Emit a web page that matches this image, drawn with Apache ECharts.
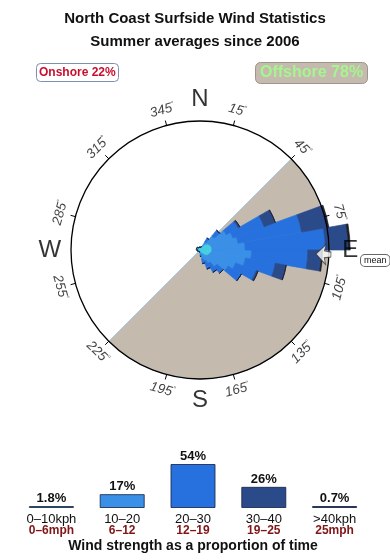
<!DOCTYPE html>
<html><head><meta charset="utf-8">
<script src="https://cdn.jsdelivr.net/npm/echarts@6/dist/echarts.min.js"></script>
<style>html,body{margin:0;padding:0;background:#fff}#c{width:390px;height:560px}</style>
</head><body><div id="c"></div>
<script>
const FONT = '"Liberation Sans", Arial, Helvetica, sans-serif';

// ---- Wind rose: 10-degree direction bins (centre bearing) ----
const dirBins = ['5','15','25','35','45','55','65','75','85','95','105','115','125','135','145','155','165','175',
                 '185','195','205','215','225','235','245','255','265','275','285','295','305','315','325','335','345','355'];
// frequency (% of time) per bin for each speed class
const rose0to10  = [0.3,0.3,0.3,0.5,0.9,1.1,1.2,1.3,1.3,1.3,1.2,1.1,1.0,0.8,0.5,0.4,0.3,0.2,
                    0.2,0.2,0.2,0.2,0.2,0.2,0.3,0.3,0.3,0.3,0.4,0.4,0.4,0.4,0.3,0.3,0.3,0.3];
const rose10to20 = [0,0,0.1,0.5,1.1,2.2,2.6,2.9,3.6,4.3,3.8,3.0,2.5,1.6,1.2,0.9,0.7,0.3,
                    0,0,0,0,0,0,0,0,0,0,0,0,0,0,0,0,0,0];
const rose20to30 = [0,0,0,0.5,0.8,1.5,3.6,7.0,8.7,6.1,3.3,2.4,1.7,0.9,1.1,0.9,0.5,0.2,
                    0,0,0,0,0,0,0,0,0,0,0,0,0,0,0,0,0,0];
const rose30to40 = [0,0,0,0,0,0.2,1.3,2.9,2.5,1.5,1.2,0.2,0,0,0,0,0,0,
                    0,0,0,0,0,0,0,0,0,0,0,0,0,0,0,0,0,0];
const rose40plus = [0,0,0,0,0,0,0,0.1,0.2,0.1,0,0,0,0,0,0,0,0,
                    0,0,0,0,0,0,0,0,0,0,0,0,0,0,0,0,0,0];
const roseClasses = [rose0to10, rose10to20, rose20to30, rose30to40, rose40plus];
const roseMax = 14;          // frequency at the compass circle
const meanDirection = 92;    // degrees
const meanRadius = 13.4;

// ---- Compass decoration ----
const tickAngles = [15,45,75,105,135,165,195,225,255,285,315,345];
const tickLabelRadius = 15.7;
const cardinals = ['N','E','S','W'];
const cardinalAngles = [0,90,180,270];
const cardinalRadius = 16.3;
const offshoreSector = [45, 225];   // bearings, clockwise
const onshoreShare = 22, offshoreShare = 78;

// ---- Speed distribution ----
const speedKph = ['0–10kph','10–20','20–30','30–40','>40kph'];
const speedMph = ['0–6mph','6–12','12–19','19–25','25mph'];
const speedShare = [1.8, 17, 54, 26, 0.7];
const speedColors = ['#45cfe0','#3a8fe6','#2671dd','#2b4a8a','#1c1c24'];

const CX = 200, CY = 250, R = 129;

const roseSeries = roseClasses.map((arr, i) => ({
  type: 'bar', coordinateSystem: 'polar', polarIndex: 0, stack: 'rose',
  data: arr, barCategoryGap: '0%', clip: false, silent: true, z: 3,
  itemStyle: { color: speedColors[i], borderColor: speedColors[i], borderWidth: 0.7 }
}));

function tickRotate(b) {
  if (b < 90) return -b;
  if (b > 270) return 360 - b;
  return 180 - b;
}

const option = {
  animation: false,
  backgroundColor: '#fff',
  textStyle: { fontFamily: FONT },
  title: [
    { text: 'North Coast Surfside Wind Statistics\nSummer averages since 2006', left: 'center', top: 7, padding: 0,
      textStyle: { fontFamily: FONT, fontSize: 15, fontWeight: 'bold', color: '#111', lineHeight: 23 } },
    { text: 'Onshore ' + onshoreShare + '%', left: 36, top: 63, padding: [3, 3, 2, 3],
      borderColor: '#7f8fb0', borderWidth: 1, borderRadius: 4, backgroundColor: '#fff',
      textStyle: { fontFamily: FONT, fontSize: 12, fontWeight: 'bold', color: '#c8102e', lineHeight: 14 } },
    { text: 'Offshore ' + offshoreShare + '%', left: 255, top: 62, padding: [2, 5, 2, 5],
      borderColor: '#9d958c', borderWidth: 1, borderRadius: 5, backgroundColor: '#c4baae',
      textStyle: { fontFamily: FONT, fontSize: 16, fontWeight: 'bold', color: '#a6f58e', lineHeight: 18 } }
  ],
  polar: [
    { center: [CX, CY], radius: R },
    { center: [CX, CY], radius: R }
  ],
  angleAxis: [
    { polarIndex: 0, type: 'category', data: dirBins, startAngle: 90, clockwise: true, show: false },
    { polarIndex: 1, type: 'value', min: -15, max: 345, interval: 30, startAngle: 105, clockwise: true, z: 6,
      axisLine: { lineStyle: { color: '#000', width: 1.3 } },
      axisTick: { show: true, length: 5, lineStyle: { color: '#000', width: 1 } },
      axisLabel: { show: false }, splitLine: { show: false } }
  ],
  radiusAxis: [
    { polarIndex: 0, min: 0, max: roseMax, show: false },
    { polarIndex: 1, min: 0, max: roseMax, show: false }
  ],
  grid: { left: 16, right: 20, top: 464, bottom: 52 },
  xAxis: {
    type: 'category', data: speedKph,
    axisLine: { show: false }, axisTick: { show: false },
    axisLabel: {
      margin: 6, interval: 0,
      formatter: (v, i) => '{a|' + speedKph[i] + '}\n{b|' + speedMph[i] + '}',
      rich: {
        a: { fontFamily: FONT, fontSize: 13, color: '#111', lineHeight: 11 },
        b: { fontFamily: FONT, fontSize: 12, fontWeight: 'bold', color: '#7f1515', lineHeight: 11 }
      }
    },
    name: 'Wind strength as a proportion of time', nameLocation: 'middle', nameGap: 31,
    nameTextStyle: { fontFamily: FONT, fontSize: 14, fontWeight: 'bold', color: '#111' }
  },
  yAxis: { type: 'value', min: 0, max: 54, show: false },
  series: [
    { type: 'pie', center: [CX, CY], radius: R, startAngle: 90 - offshoreSector[0], clockwise: true,
      silent: true, z: 1, label: { show: false }, labelLine: { show: false },
      data: [
        { value: offshoreSector[1] - offshoreSector[0], itemStyle: { color: '#c4baae', borderColor: '#a9c9ea', borderWidth: 1 } },
        { value: 360 - (offshoreSector[1] - offshoreSector[0]), itemStyle: { color: 'rgba(0,0,0,0)' } }
      ] },
    ...roseSeries,
    { type: 'scatter', coordinateSystem: 'polar', polarIndex: 1, clip: false, silent: true, z: 7,
      symbol: 'path://M10,0 L20,10 L13.5,8.5 L12.5,15 L7.5,15 L6.5,8.5 L0,10 Z',
      symbolSize: [20, 15], symbolRotate: 180 - meanDirection,
      itemStyle: { color: '#fff', borderColor: '#333', borderWidth: 1 },
      data: [[meanRadius, meanDirection]] },
    { type: 'scatter', coordinateSystem: 'polar', polarIndex: 1, clip: false, silent: true, z: 7,
      symbolSize: 0,
      label: { show: true, position: 'inside', formatter: p => '{n|' + p.value[1] + '}{d|°}',
        rich: { n: { fontFamily: FONT, fontSize: 13.5, fontStyle: 'italic', color: '#111' },
                d: { fontFamily: FONT, fontSize: 7, color: '#111', padding: [0, 0, 7, 0] } } },
      data: tickAngles.map(b => ({ value: [tickLabelRadius, b], label: { rotate: tickRotate(b) } })) },
    { type: 'scatter', coordinateSystem: 'polar', polarIndex: 1, clip: false, silent: true, z: 7,
      symbolSize: 0,
      label: { show: true, position: 'inside', formatter: p => cardinals[p.dataIndex],
        fontFamily: FONT, fontSize: 24, color: '#000' },
      data: cardinalAngles.map(a => [cardinalRadius, a]) },
    { type: 'bar', xAxisIndex: 0, yAxisIndex: 0, data: speedShare, barWidth: 45, barMinHeight: 2,
      itemStyle: { color: p => speedColors[p.dataIndex], borderColor: 'rgba(25,40,75,0.85)', borderWidth: 1 },
      label: { show: true, position: 'top', distance: 1, formatter: '{c}%',
        fontFamily: FONT, fontSize: 13, fontWeight: 'bold', color: '#111' } }
  ],
  graphic: [
    { type: 'text', left: 360, top: 254, z: 10,
      style: { text: 'mean', fontFamily: FONT, fontSize: 9, fill: '#111', backgroundColor: '#fff',
        borderColor: '#666', borderWidth: 1, borderRadius: 4, padding: [1, 3, 1, 3] } }
  ]
};

const chart = echarts.init(document.getElementById('c'));
chart.setOption(option);
</script>
</body></html>
